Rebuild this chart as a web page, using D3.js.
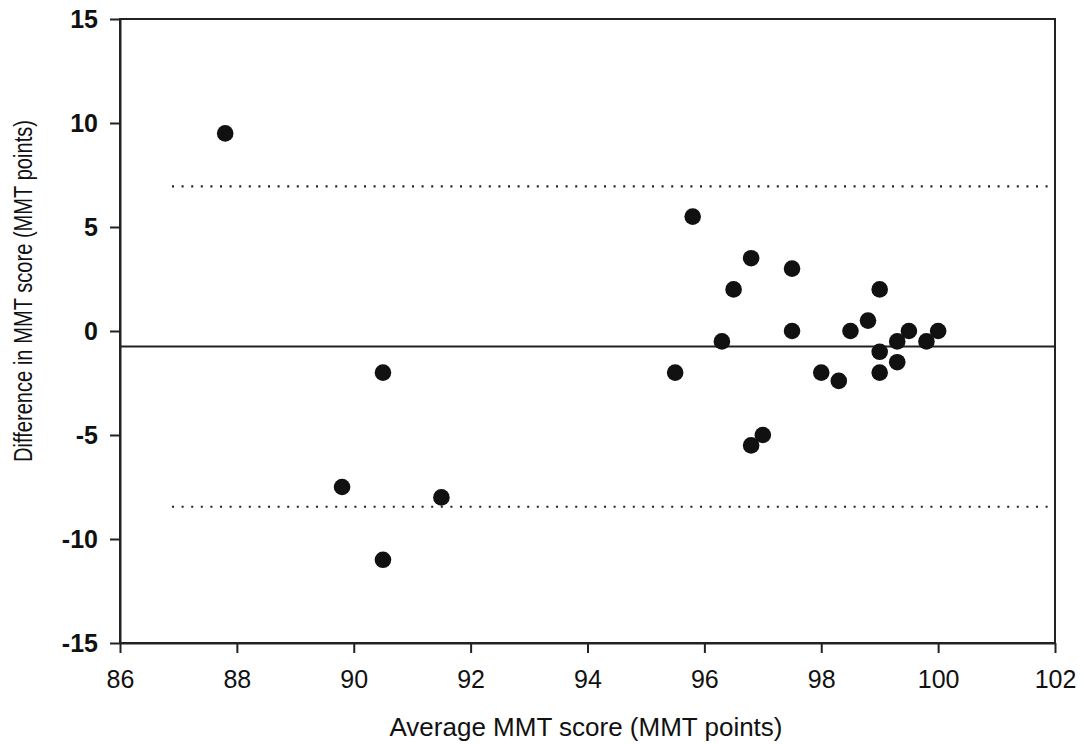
<!DOCTYPE html>
<html><head><meta charset="utf-8">
<script src="https://cdn.jsdelivr.net/npm/d3@7"></script>
<style>body{margin:0;background:#fff}svg{display:block}</style>
</head><body>
<svg id="c" width="1083" height="744"></svg>
<script>
const avgScore = [87.8, 90.5, 89.8, 91.5, 90.5, 95.5, 95.8, 96.3, 96.5, 96.8, 97.5, 97.5, 96.8, 97.0, 98.0, 98.3, 98.5, 98.8, 99.0, 99.0, 99.0, 99.3, 99.3, 99.5, 99.8, 100.0];
const diffScore = [9.5, -2, -7.5, -8, -11, -2, 5.5, -0.5, 2, 3.5, 3, 0, -5.5, -5, -2, -2.4, 0, 0.5, 2, -1, -2, -1.5, -0.5, 0, -0.5, 0];
const meanDiff = -0.75;
const upperLimit = 6.95;
const lowerLimit = -8.45;
const xTicks = [86, 88, 90, 92, 94, 96, 98, 100, 102];
const yTicks = [-15, -10, -5, 0, 5, 10, 15];
const xTitle = "Average MMT score (MMT points)";
const yTitle = "Difference in MMT score (MMT points)";

const svg = d3.select("#c");
const L = 120, R = 1055, T = 19, B = 643;
const x = d3.scaleLinear().domain([86, 102]).range([L, R]);
const y = d3.scaleLinear().domain([-15, 15]).range([B, T]);
const ink = "#222";
const font = "Liberation Sans, Arial, sans-serif";
const fmt = d => String(d);

// frame
svg.append("rect").attr("x", L).attr("y", T).attr("width", R - L).attr("height", B - T)
  .attr("fill", "none").attr("stroke", ink).attr("stroke-width", 2);

const xa = svg.append("g").attr("transform", `translate(0,${B})`)
  .call(d3.axisBottom(x).tickValues(xTicks).tickFormat(fmt).tickSize(10).tickSizeOuter(0).tickPadding(17));
const ya = svg.append("g").attr("transform", `translate(${L},0)`)
  .call(d3.axisLeft(y).tickValues(yTicks).tickFormat(fmt).tickSize(10).tickSizeOuter(0).tickPadding(12));
[xa, ya].forEach(a => {
  a.select(".domain").attr("stroke", ink).attr("stroke-width", 2);
  a.selectAll(".tick line").attr("stroke", ink).attr("stroke-width", 2);
  a.selectAll(".tick text").attr("fill", "#111").attr("font-family", font).attr("font-size", 25);
});
ya.selectAll(".tick text").attr("font-weight", "bold");

// lines
svg.append("line").attr("x1", L).attr("x2", R).attr("y1", y(meanDiff)).attr("y2", y(meanDiff))
  .attr("stroke", ink).attr("stroke-width", 2);
[upperLimit, lowerLimit].forEach(v => {
  svg.append("line").attr("x1", L + 52).attr("x2", R - 6).attr("y1", y(v)).attr("y2", y(v))
    .attr("stroke", ink).attr("stroke-width", 2.2).attr("stroke-dasharray", "2 7.6");
});

// points
svg.append("g").selectAll("circle").data(avgScore.map((a, i) => [a, diffScore[i]]))
  .join("circle").attr("cx", d => x(d[0])).attr("cy", d => y(d[1])).attr("r", 8.3).attr("fill", "#111");

// titles
svg.append("text").attr("x", 586).attr("y", 736).attr("text-anchor", "middle")
  .attr("font-family", font).attr("font-size", 26).attr("fill", "#111").text(xTitle);
svg.append("text").attr("transform", `translate(32,291) rotate(-90)`).attr("text-anchor", "middle")
  .attr("font-family", font).attr("font-size", 26).attr("fill", "#111")
  .attr("textLength", 342).attr("lengthAdjust", "spacingAndGlyphs").text(yTitle);
</script>
</body></html>
